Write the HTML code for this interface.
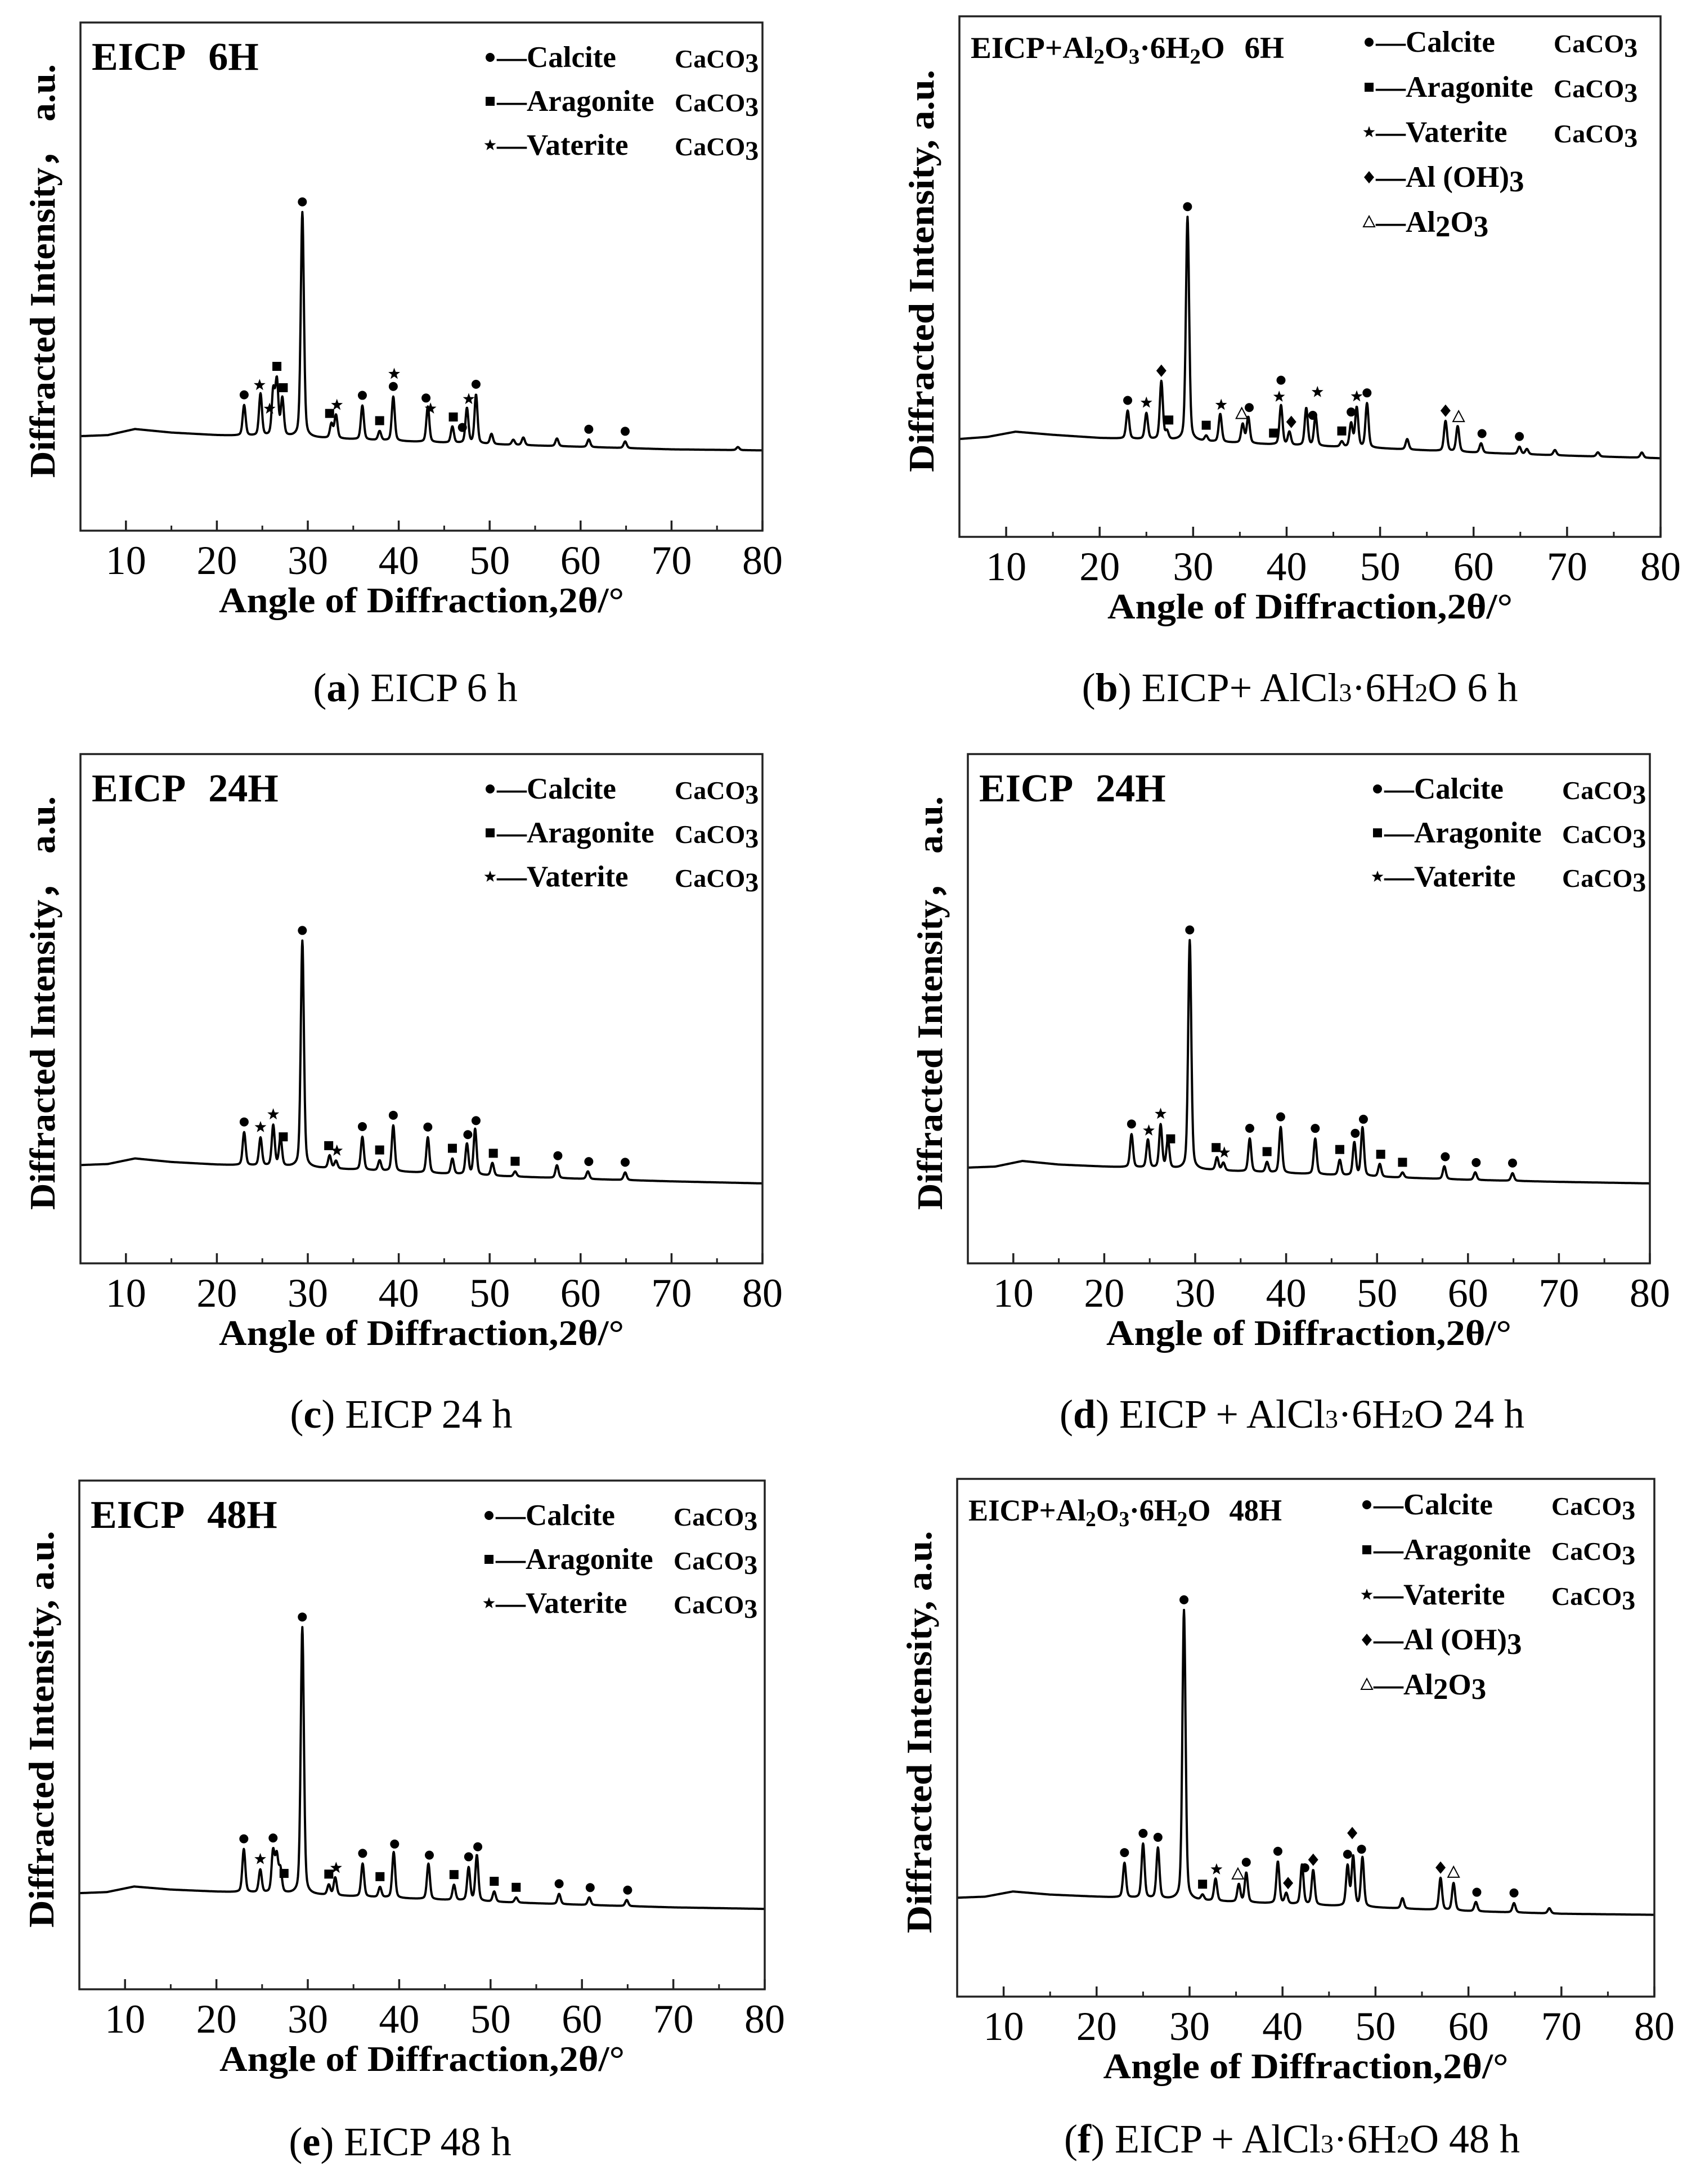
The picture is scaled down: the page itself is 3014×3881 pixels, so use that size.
<!DOCTYPE html>
<html><head><meta charset="utf-8"><style>
html,body{margin:0;padding:0;background:#fff;}
svg{display:block;}
text{font-family:"Liberation Serif",serif;fill:#000;}
</style></head>
<body>
<svg id="fig" width="3014" height="3881" viewBox="0 0 3014 3881" xmlns="http://www.w3.org/2000/svg"></svg>
<script>
// ---------- data ----------
const tickValues = [10,20,30,40,50,60,70,80];
const minorTicks = [5,15,25,35,45,55,65,75];

const baseA = [[5,18.6],[8,18.8],[11,20],[15,19.3],[20,18.8],[30,18.3],[40,17.6],[50,17],[60,16.5],[70,16],[80,15.8]];
const peaksA = [[23.0,6],[24.8,8.3],[26.2,8.7],[26.6,10.6],[27.2,7.3],[29.4,44.3],[32.6,2.8],[33.1,4.6],[36.0,6.7],[37.9,1.8],[39.4,8.7],[43.2,7],[45.9,3.2],[47.5,6.9],[48.5,9.6],[50.2,2],[52.6,1],[53.7,1.5],[57.4,1.5],[60.9,1.5],[64.9,1.3],[77.3,0.6]];
const marksA = [[23.0,'c',0],[24.7,'s',0],[25.8,'s',0],[26.6,'q',0],[27.3,'q',0],[29.4,'c',0],[32.4,'q',0],[33.2,'s',0],[36.0,'c',0],[37.9,'q',0],[39.4,'c',0],[39.5,'s',1],[43.0,'c',0],[43.5,'s',0],[46.0,'q',0],[47.0,'c',0],[47.7,'s',0],[48.5,'c',0],[60.9,'c',0],[64.9,'c',0]];

const baseB = [[5,18.8],[8,19.2],[11,20.2],[15,19.6],[20,19],[30,18.4],[40,17.6],[50,17],[60,16.2],[70,15.6],[80,15.1]];
const peaksB = [[23.0,5.4],[25.0,5],[26.6,11.2],[27.2,1.5],[29.4,43],[31.4,1],[32.9,5.4],[35.3,3.6],[35.9,5],[39.4,7.6],[40.3,2.5],[42.1,7.2],[43.1,5.8],[45.9,1],[46.9,4.5],[47.5,7.6],[48.6,8.5],[52.9,2],[57.0,5.8],[58.3,4.9],[60.8,1.8],[64.9,1.4],[65.7,1],[68.7,1],[73.3,0.8],[78.0,1]];
const marksB = [[23.0,'c',0],[25.0,'s',0],[26.6,'d',0],[27.4,'q',0],[29.4,'c',0],[31.4,'q',0],[33.0,'s',0],[35.2,'t',0],[36.0,'c',0],[38.6,'q',0],[39.2,'s',0],[39.4,'c',1],[40.5,'d',0],[42.8,'c',0],[43.3,'s',1],[45.9,'q',0],[46.9,'c',0],[47.5,'s',0],[48.6,'c',0],[57.0,'d',0],[58.4,'t',0],[60.9,'c',0],[64.9,'c',0]];

const baseC = [[5,19.3],[8,19.5],[11,20.6],[15,19.9],[20,19.4],[30,18.8],[40,18],[50,17.2],[60,16.6],[70,16.1],[80,15.7]];
const peaksC = [[23.0,6.5],[24.8,5.5],[26.2,8],[27.0,5.5],[29.4,44.5],[32.4,2.5],[33.1,1.5],[36.0,6.5],[37.9,2],[39.4,9],[43.2,7],[45.9,3],[47.5,6],[48.4,9],[50.3,2.5],[52.8,1],[57.4,2.5],[60.8,1.5],[64.9,1.5]];
const marksC = [[23.0,'c',0],[24.8,'s',0],[26.2,'s',0],[27.3,'q',0],[29.4,'c',0],[32.3,'q',0],[33.2,'s',0],[36.0,'c',0],[37.9,'q',0],[39.4,'c',0],[43.2,'c',0],[45.9,'q',0],[47.6,'c',0],[48.5,'c',0],[50.4,'q',0],[52.8,'q',0],[57.5,'c',0],[60.9,'c',0],[64.9,'c',0]];

const baseD = [[5,18.8],[8,19],[11,20.1],[15,19.4],[20,19],[30,18.4],[40,17.7],[50,17],[60,16.4],[70,16],[80,15.7]];
const peaksD = [[23.0,6.5],[24.8,5.5],[26.2,8.5],[27.0,5.5],[29.4,45],[32.4,2.5],[33.1,1.5],[36.0,6.5],[37.9,2],[39.4,9],[43.2,7],[45.9,3],[47.5,6.5],[48.4,9.5],[50.3,2.5],[52.8,1],[57.4,2.5],[60.8,1.5],[64.9,1.5]];
const marksD = [[23.0,'c',0],[24.9,'s',0],[26.2,'s',0],[27.3,'q',0],[29.4,'c',0],[32.3,'q',0],[33.2,'s',0],[36.0,'c',0],[37.9,'q',0],[39.4,'c',0],[43.2,'c',0],[45.9,'q',0],[47.6,'c',0],[48.5,'c',0],[50.4,'q',0],[52.8,'q',0],[57.5,'c',0],[60.9,'c',0],[64.9,'c',0]];

const baseE = [[5,18.9],[8,19.1],[11,20.2],[15,19.6],[20,19.2],[30,18.6],[40,17.9],[50,17.2],[60,16.6],[70,16.1],[80,15.8]];
const peaksE = [[23.0,8.5],[24.8,4.5],[26.2,8],[26.6,7],[27.0,4.5],[29.4,52.5],[32.3,2],[33.0,3.5],[36.0,6.5],[37.9,2],[39.4,9],[43.2,7],[46.0,3],[47.6,6.5],[48.5,9],[50.4,2],[52.8,1],[57.5,2],[60.8,1.5],[64.9,1.2]];
const marksE = [[23.0,'c',0],[24.8,'s',0],[26.2,'c',0],[27.4,'q',0],[29.4,'c',0],[32.3,'q',0],[33.1,'s',0],[36.0,'c',0],[37.9,'q',0],[39.5,'c',0],[43.3,'c',0],[46.0,'q',0],[47.6,'c',0],[48.6,'c',0],[50.4,'q',0],[52.8,'q',0],[57.5,'c',0],[60.9,'c',0],[65.0,'c',0]];

const baseF = [[5,19.1],[8,19.3],[11,20.3],[15,19.7],[20,19.3],[30,18.6],[40,17.9],[50,17.2],[60,16.5],[70,16],[80,15.8]];
const peaksF = [[23.0,6.7],[25.0,10.5],[26.6,9.8],[29.4,56],[31.4,1],[32.8,4.3],[35.3,3.4],[36.1,5.7],[39.5,8.1],[40.4,2],[42.1,7.7],[43.3,6.7],[47.0,7.7],[47.6,9.5],[48.6,9.5],[52.9,2],[57.0,6.2],[58.4,5.3],[60.8,1.8],[64.9,1.8],[68.7,1]];
const marksF = [[23.0,'c',0],[25.0,'c',0],[26.6,'c',0],[29.4,'c',0],[31.4,'q',0],[32.9,'s',0],[35.2,'t',0],[36.1,'c',0],[39.5,'c',0],[40.6,'d',0],[42.4,'c',0],[43.3,'d',0],[47.0,'c',0],[47.5,'d',1],[48.5,'c',0],[57.0,'d',0],[58.4,'t',0],[60.9,'c',0],[64.9,'c',0]];

// ---------- drawing ----------
const NS='http://www.w3.org/2000/svg';
const svg=document.getElementById('fig');
function mk(tag,attrs,parent){const e=document.createElementNS(NS,tag);for(const k in attrs)e.setAttribute(k,attrs[k]);(parent||svg).appendChild(e);return e;}

function baseAt(base,x){for(let i=0;i<base.length-1;i++){if(x>=base[i][0]&&x<=base[i+1][0]){const t=(x-base[i][0])/(base[i+1][0]-base[i][0]);return base[i][1]+t*(base[i+1][1]-base[i][1]);}}return base[base.length-1][1];}
function valAt(base,peaks,x){let v=baseAt(base,x);for(const p of peaks){const d=x-p[0];const s=p[1]>30?0.17:0.16;v+=p[1]*(0.7*Math.exp(-d*d/(2*s*s))+0.3/(1+(d/0.22)*(d/0.22)));}return v;}

function marker(g,type,cx,cy){
  let el;
  if(type==='c'){el=mk('circle',{cx:cx,cy:cy,r:8,fill:'#000'},g);}
  else if(type==='q'){el=mk('rect',{x:cx-8,y:cy-8,width:16,height:16,fill:'#000'},g);}
  else if(type==='d'){el=mk('polygon',{points:`${cx},${cy-11} ${cx+9},${cy} ${cx},${cy+11} ${cx-9},${cy}`,fill:'#000'},g);}
  else if(type==='t'){el=mk('polygon',{points:`${cx},${cy-11} ${cx+10},${cy+8} ${cx-10},${cy+8}`,fill:'#fff',stroke:'#000','stroke-width':2},g);}
  else {let pts=[];for(let i=0;i<10;i++){const r=i%2?4.5:11;const a=-Math.PI/2+i*Math.PI/5;pts.push((cx+r*Math.cos(a)).toFixed(1)+','+(cy+r*Math.sin(a)).toFixed(1));}el=mk('polygon',{points:pts.join(' '),fill:'#000'},g);}
  return el;
}

function panel(o){
  const g=mk('g',{});
  
  
  const X=v=>o.L+(v-5)/75*(o.R-o.L);
  const Y=u=>o.B-u/100*(o.B-o.T);
  let d='';
  for(let x=5;x<=80.0001;x+=0.04){const y=Y(valAt(o.base,o.peaks,x));d+=(d?'L':'M')+X(x).toFixed(1)+','+y.toFixed(1);}
  const path=mk('path',{d:d,fill:'none',stroke:'#000','stroke-width':4,'stroke-linejoin':'round'},g);
  
  
  for(const m of o.marks){
    const top=Math.min(Y(valAt(o.base,o.peaks,m[0])),Y(valAt(o.base,o.peaks,m[0]-0.15)),Y(valAt(o.base,o.peaks,m[0]+0.15)));
    const el=marker(g,m[1],X(m[0]),top-18-m[2]*26);
    
    
  }
  const fr=mk('rect',{x:o.L,y:o.T,width:o.R-o.L,height:o.B-o.T,fill:'none',stroke:'#222','stroke-width':3.5},g);
  
  
  for(const t of tickValues){const l=mk('line',{x1:X(t),x2:X(t),y1:o.B,y2:o.B-18,stroke:'#222','stroke-width':3.5},g);
    
    const tx=mk('text',{x:X(t),y:o.B+77,'font-size':72,'text-anchor':'middle'},g);tx.textContent=t;
    }
  for(const t of minorTicks){const l=mk('line',{x1:X(t),x2:X(t),y1:o.B,y2:o.B-9,stroke:'#222','stroke-width':3},g);
    }
  const xt=mk('text',{x:(o.L+o.R)/2,y:o.B+145,'font-size':64,'font-weight':'bold','text-anchor':'middle',textLength:720,lengthAdjust:'spacingAndGlyphs'},g);
  xt.textContent='Angle of Diffraction,2θ/°';
  
  const cy=(o.T+o.B)/2-10;
  const yt=mk('text',{x:0,y:0,'font-size':64,'font-weight':'bold','text-anchor':'middle',transform:`translate(${o.L-46},${cy}) rotate(-90)`,textLength:o.ylen,lengthAdjust:'spacingAndGlyphs'},g);
  yt.textContent=o.ytitle;
  
  const pt=mk('text',{x:o.L+20,y:o.T+(o.small?74:84),'font-size':o.small?54:70,'font-weight':'bold'},g);
  
  if(o.small){pt.setAttribute('textLength',557);pt.setAttribute('lengthAdjust','spacingAndGlyphs');
    pt.innerHTML='EICP+Al<tspan font-size="38" dy="10">2</tspan><tspan dy="-10">O</tspan><tspan font-size="38" dy="10">3</tspan><tspan dy="-10">·6H</tspan><tspan font-size="38" dy="10">2</tspan><tspan dy="-10">O</tspan><tspan dx="34">'+o.hr+'</tspan>';}
  else {pt.innerHTML='EICP<tspan dx="40">'+o.hr+'</tspan>';}
  const names=['Calcite','Aragonite','Vaterite','Al (OH)','Al'];
  const types=['c','q','s','d','t'];
  const n=o.small?5:3;
  for(let i=0;i<n;i++){
    const ry=o.T+(o.small?46:62)+i*(o.small?80:78);
    const lx=o.L+728;
    const mm=marker(g,types[i],lx,ry);
    
    const lt=mk('text',{x:lx+12,y:ry+17,'font-size':53,'font-weight':'bold'},g);
    
    if(i<3){lt.textContent='—'+names[i];
      const cc=mk('text',{x:o.L+1056,y:ry+18,'font-size':46,'font-weight':'bold'},g);
      cc.innerHTML='CaCO<tspan font-size="48" dy="8">3</tspan>';
      }
    else if(i===3){lt.innerHTML='—Al (OH)<tspan dy="8">3</tspan>';}
    else {lt.innerHTML='—Al<tspan dy="8">2</tspan><tspan dy="-8">O</tspan><tspan dy="8">3</tspan>';}
  }
  const cp=mk('text',{x:o.capX,y:o.capY,'font-size':72,'text-anchor':'middle'},g);
  
  cp.innerHTML=o.cap;
}

const YT1='Diffracted Intensity，  a.u.';
const YT2='Diffracted Intensity, a.u.';
const capAl=(l,h)=>`(<tspan font-weight="bold">${l}</tspan>) EICP + AlCl<tspan font-size="46">3</tspan>·6H<tspan font-size="46">2</tspan>O ${h} h`;

panel({id:'a',L:143,R:1355,T:40,B:943,base:baseA,peaks:peaksA,marks:marksA,hr:'6H',small:false,ytitle:YT1,ylen:735,capX:738,capY:1246,cap:'(<tspan font-weight="bold">a</tspan>) EICP 6 h'});
panel({id:'b',L:1705,R:2951,T:29,B:954,base:baseB,peaks:peaksB,marks:marksB,hr:'6H',small:true,ytitle:YT2,ylen:715,capX:2310,capY:1246,cap:'(<tspan font-weight="bold">b</tspan>) EICP+ AlCl<tspan font-size="46">3</tspan>·6H<tspan font-size="46">2</tspan>O 6 h'});
panel({id:'c',L:143,R:1355,T:1340,B:2245,base:baseC,peaks:peaksC,marks:marksC,hr:'24H',small:false,ytitle:YT1,ylen:735,capX:713,capY:2537,cap:'(<tspan font-weight="bold">c</tspan>) EICP 24 h'});
panel({id:'d',L:1720,R:2932,T:1340,B:2245,base:baseD,peaks:peaksD,marks:marksD,hr:'24H',small:false,ytitle:YT1,ylen:735,capX:2296,capY:2537,cap:capAl('d',24)});
panel({id:'e',L:141,R:1359,T:2631,B:3535,base:baseE,peaks:peaksE,marks:marksE,hr:'48H',small:false,ytitle:YT2,ylen:705,capX:711,capY:3830,cap:'(<tspan font-weight="bold">e</tspan>) EICP 48 h'});
panel({id:'f',L:1701,R:2940,T:2628,B:3548,base:baseF,peaks:peaksF,marks:marksF,hr:'48H',small:true,ytitle:YT2,ylen:715,capX:2296,capY:3825,cap:capAl('f',48)});
</script>
</body></html>
